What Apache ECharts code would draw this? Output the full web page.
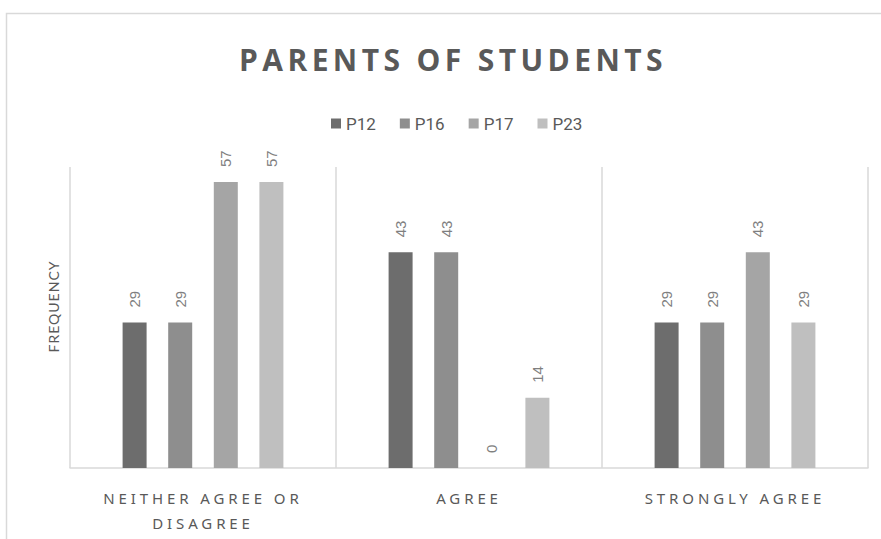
<!DOCTYPE html>
<html>
<head>
<meta charset="utf-8">
<script src="https://cdn.jsdelivr.net/npm/echarts@6/dist/echarts.min.js"></script>
<style>
  html, body { margin: 0; padding: 0; background: #fff; }
  #main { width: 881px; height: 539px; }
  /* spaced-out lettering like the original office chart */
  #main text[style*="Open Sans"] { letter-spacing: 4.4px; }
  #main text[style*="Noto Sans"] { letter-spacing: 3.9px; }
  #main text[style*="Lato"] { letter-spacing: 1px; }
</style>
</head>
<body>
<div id="main"></div>
<script>
// categories and series
const categories = ['NEITHER AGREE OR\nDISAGREE', 'AGREE', 'STRONGLY AGREE'];
const seriesNames = ['P12', 'P16', 'P17', 'P23'];
const p12 = [29, 43, 29];
const p16 = [29, 43, 29];
const p17 = [57, 0, 43];
const p23 = [57, 14, 29];
const colors = ['#6d6d6d', '#8e8e8e', '#a5a5a5', '#bfbfbf'];

const chartDom = document.getElementById('main');
const myChart = echarts.init(chartDom, null, { renderer: 'svg' });

const makeSeries = (name, data, i) => ({
    name: name,
    type: 'bar',
    data: data,
    barWidth: 24,
    barGap: '90%',
    itemStyle: { color: colors[i] },
    label: {
        show: true,
        position: 'top',
        rotate: 90,
        distance: 15,
        align: 'left',
        verticalAlign: 'middle',
        color: '#7f7f7f',
        fontSize: 15,
        fontFamily: 'Liberation Sans'
    }
});

const option = {
    animation: false,
    backgroundColor: '#fff',
    graphic: [{
        type: 'rect',
        shape: { x: 6.5, y: 13.5, width: 1000, height: 1000 },
        style: { fill: 'none', stroke: '#d9d9d9', lineWidth: 1.5 },
        silent: true
    }],
    title: {
        text: 'PARENTS OF STUDENTS',
        left: 448,
        textAlign: 'center',
        top: 39,
        textStyle: {
            fontFamily: 'Open Sans',
            fontWeight: 'bold',
            fontSize: 30,
            color: '#595959'
        }
    },
    legend: {
        data: seriesNames,
        top: 110,
        left: 326,
        icon: 'rect',
        itemWidth: 10,
        itemHeight: 10,
        itemGap: 24,
        textStyle: {
            fontFamily: 'Roboto',
            fontSize: 17,
            color: '#595959'
        }
    },
    grid: { left: 70, right: 13, top: 167, bottom: 71 },
    xAxis: {
        type: 'category',
        data: categories,
        axisLine: { lineStyle: { color: '#d9d9d9', width: 1.5 } },
        axisTick: { show: false },
        splitLine: { show: true, lineStyle: { color: '#d9d9d9', width: 1.5 } },
        axisLabel: {
            margin: 17,
            fontFamily: 'Noto Sans',
            fontSize: 15,
            lineHeight: 25,
            color: '#595959'
        }
    },
    yAxis: {
        type: 'value',
        min: 0,
        max: 60,
        name: 'FREQUENCY',
        nameLocation: 'middle',
        nameGap: 10,
        nameRotate: 90,
        nameTextStyle: {
            fontFamily: 'Lato',
            fontSize: 14,
            color: '#595959',
            padding: [0, 0, 0, 22]
        },
        axisLine: { show: false },
        axisTick: { show: false },
        axisLabel: { show: false },
        splitLine: { show: false }
    },
    series: [
        makeSeries('P12', p12, 0),
        makeSeries('P16', p16, 1),
        makeSeries('P17', p17, 2),
        makeSeries('P23', p23, 3)
    ]
};

option && myChart.setOption(option);
</script>
</body>
</html>
